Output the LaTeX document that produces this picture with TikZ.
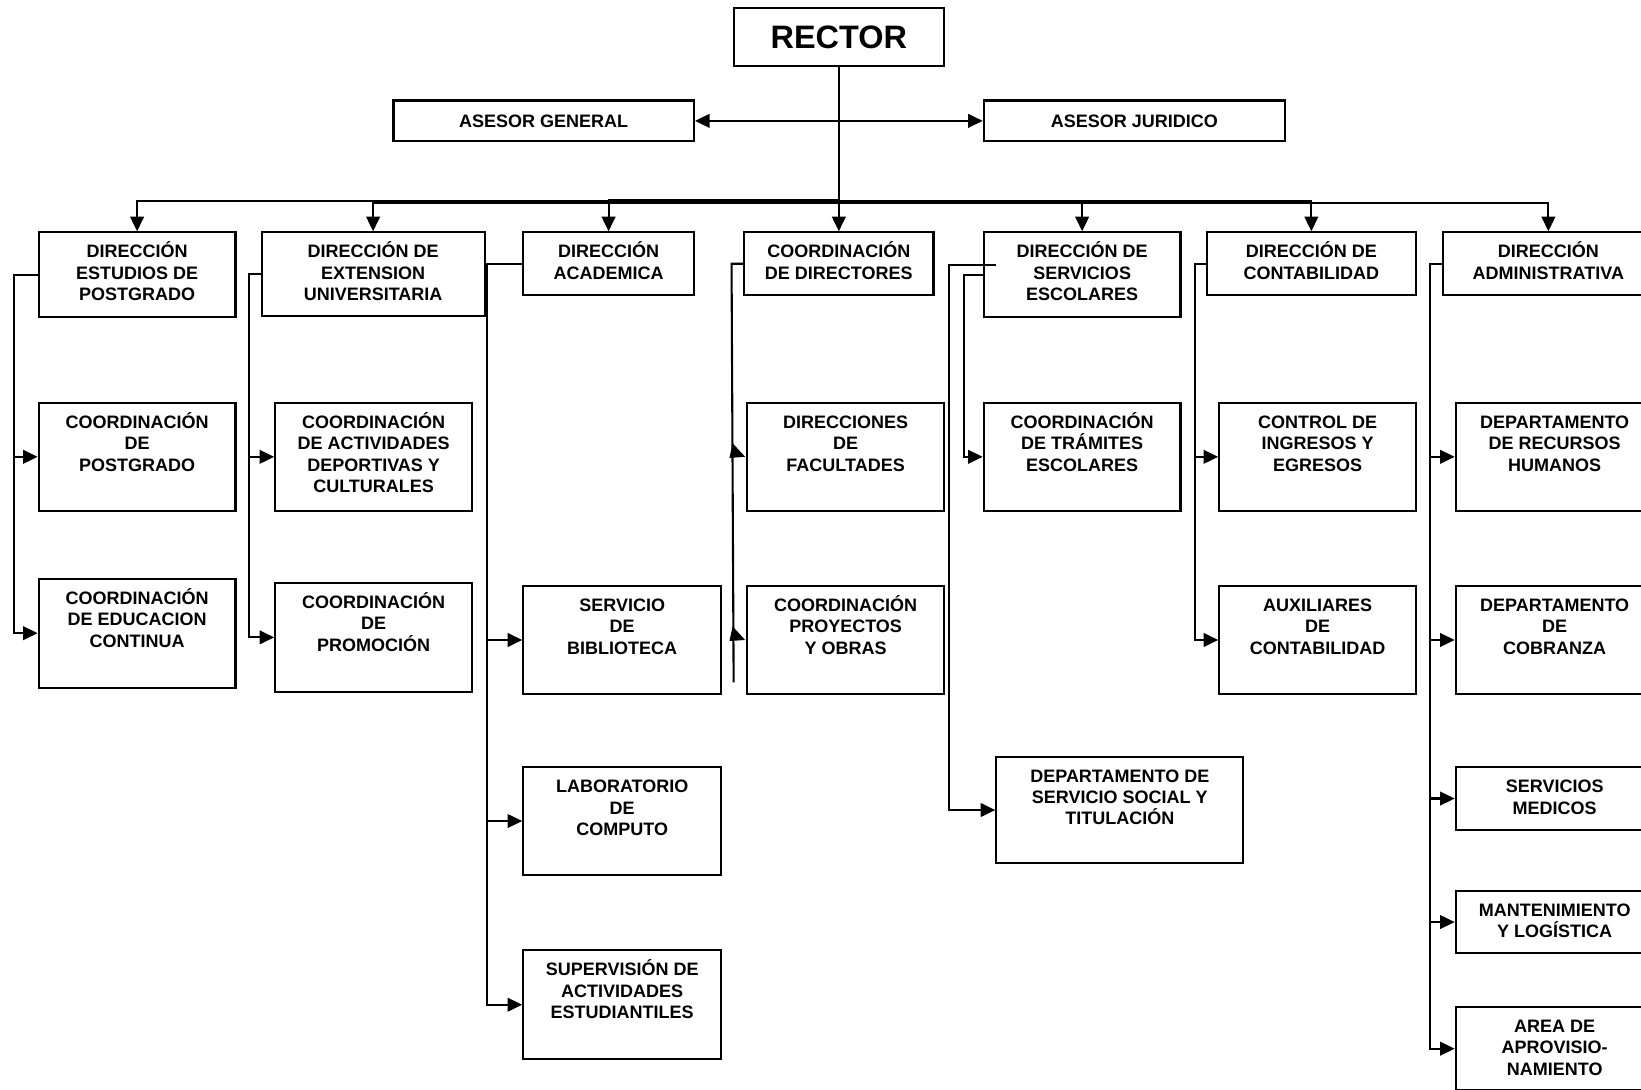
\documentclass[tikz,border=0pt]{standalone}
\usepackage{fontspec}
\setmainfont{Liberation Sans}
\usetikzlibrary{arrows.meta,fit}
% strut that fixes the height of the first line of every box label
\newcommand\lnstrut{\rule{0pt}{8.5pt}}
% \orgbox{name}{(x1,y1)}{(x2,y2)}{label}: framed unit with top-aligned label
\newcommand\orgbox[4]{%
  \node[boxs, fit={#2 #3}] (#1) {};
  \node[txt] (#1t) at ([yshift=-4pt]#1.north) {\lnstrut#4};}
\begin{document}
\begin{tikzpicture}[x=0.5pt,y=-0.5pt,
  boxs/.style={draw, line width=1pt, inner sep=0pt, rectangle},
  txt/.style={anchor=north, inner sep=0pt, align=center,
              font=\fontsize{8.6}{10.2}\selectfont\bfseries},
  arr/.style={line width=1pt, -{Triangle[width=6.5pt,length=7pt]}},
  darr/.style={line width=1pt, {Triangle[width=6.5pt,length=7pt]}-{Triangle[width=6.5pt,length=7pt]}},
  link/.style={line width=1pt},
]
\useasboundingbox (0,0) rectangle (1568,1041);
\fill[white] (0,0) rectangle (1568,1041);
\clip (0,0) rectangle (1568,1041);

% ---------- top level ----------
\node[boxs, fit={(701,8) (902,63)}] (rector) {};
\node[inner sep=0pt, font=\fontsize{15.5}{18}\selectfont\bfseries] (rectort) at (rector.center) {RECTOR};
\node[boxs, fit={(376,96) (663,135)}] (ag) {};
\node[txt, anchor=center] (agt) at (ag.center) {ASESOR GENERAL};
\node[boxs, fit={(940,96) (1228,135)}] (aj) {};
\node[txt, anchor=center] (ajt) at (aj.center) {ASESOR JURIDICO};

% ---------- directorates ----------
\orgbox{b1}{(37,222)}{(225,303)}{DIRECCIÓN\\ESTUDIOS DE\\POSTGRADO}
\orgbox{b2}{(250,222)}{(463,302)}{DIRECCIÓN DE\\EXTENSION\\UNIVERSITARIA}
\orgbox{b3}{(500,222)}{(663,282)}{DIRECCIÓN\\ACADEMICA}
\orgbox{b4}{(711,222)}{(892,282)}{COORDINACIÓN\\DE DIRECTORES}
\orgbox{b5}{(940,222)}{(1128,303)}{DIRECCIÓN DE\\SERVICIOS\\ESCOLARES}
\orgbox{b6}{(1153,222)}{(1353,282)}{DIRECCIÓN DE\\CONTABILIDAD}
\orgbox{b7}{(1379,222)}{(1580,282)}{DIRECCIÓN\\ADMINISTRATIVA}

% ---------- second row ----------
\orgbox{c1}{(37,385)}{(225,488)}{COORDINACIÓN\\DE\\POSTGRADO}
\orgbox{c2}{(263,385)}{(451,488)}{COORDINACIÓN\\DE ACTIVIDADES\\DEPORTIVAS Y\\CULTURALES}
\orgbox{c4}{(714,385)}{(902,488)}{DIRECCIONES\\DE\\FACULTADES}
\orgbox{c5}{(940,385)}{(1128,488)}{COORDINACIÓN\\DE TRÁMITES\\ESCOLARES}
\orgbox{c6}{(1165,385)}{(1353,488)}{CONTROL DE\\INGRESOS Y\\EGRESOS}
\orgbox{c7}{(1391,385)}{(1580,488)}{DEPARTAMENTO\\DE RECURSOS\\HUMANOS}

% ---------- third row ----------
\orgbox{d1}{(37,553)}{(225,657)}{COORDINACIÓN\\DE EDUCACION\\CONTINUA}
\orgbox{d2}{(263,557)}{(451,661)}{COORDINACIÓN\\DE\\PROMOCIÓN}
\orgbox{d3}{(500,560)}{(689,663)}{SERVICIO\\DE\\BIBLIOTECA}
\orgbox{d4}{(714,560)}{(902,663)}{COORDINACIÓN\\PROYECTOS\\Y OBRAS}
\orgbox{d6}{(1165,560)}{(1353,663)}{AUXILIARES\\DE\\CONTABILIDAD}
\orgbox{d7}{(1391,560)}{(1580,663)}{DEPARTAMENTO\\DE\\COBRANZA}

% ---------- lower units ----------
\orgbox{e3}{(500,733)}{(689,836)}{LABORATORIO\\DE\\COMPUTO}
\orgbox{e5}{(952,723)}{(1188,825)}{DEPARTAMENTO DE\\SERVICIO SOCIAL Y\\TITULACIÓN}
\orgbox{e7}{(1391,733)}{(1580,793)}{SERVICIOS\\MEDICOS}
\orgbox{f3}{(500,908)}{(689,1012)}{SUPERVISIÓN DE\\ACTIVIDADES\\ESTUDIANTILES}
\orgbox{f7}{(1391,851)}{(1580,911)}{MANTENIMIENTO\\Y LOGÍSTICA}
\orgbox{g7}{(1391,962)}{(1580,1042)}{AREA DE\\APROVISIO-\\NAMIENTO}

% ---------- advisers ----------
\draw[darr] (ag.east) -- (aj.west);

% ---------- rector to directorates ----------
\draw[arr] (rector.south) -- ++(0,128) -| (b1.north);
\draw[arr] (rector.south) -- ++(0,130) -| (b2.north);
\draw[arr] (rector.south) -- ++(0,127.5) -| (b3.north);
\draw[arr] (rector.south) -- (b4.north);
\draw[arr] (rector.south) -- ++(0,130) -| (b5.north);
\draw[arr] (rector.south) -- ++(0,128) -| (b6.north);
\draw[arr] (rector.south) -- ++(0,130) -| (b7.north);

% ---------- postgrado ----------
\draw[arr] (b1.west) -- ++(-23,0) |- (c1.west);
\draw[arr] (b1.west) -- ++(-23,0) |- (d1.west);

% ---------- extension ----------
\draw[arr] (b2.west) -- ++(-11,0) |- (c2.west);
\draw[arr] (b2.west) -- ++(-11,0) |- (d2.west);

% ---------- academica ----------
\draw[arr] (b3.west) -- ++(-34,0) |- (d3.west);
\draw[arr] (b3.west) -- ++(-34,0) |- (e3.west);
\draw[arr] (b3.west) -- ++(-34,0) |- (f3.west);

% ---------- directores ----------
\draw[link] (b4.west) -- ++(-11,0) -- ++(2,400);
\fill ([shift={(-13,-13)}]c4.west) -- ([shift={(-16,1)}]c4.west) -- ([shift={(-1,0)}]c4.west) -- cycle;
\fill ([shift={(-13,-13)}]d4.west) -- ([shift={(-16,1)}]d4.west) -- ([shift={(-1,0)}]d4.west) -- cycle;

% ---------- servicios escolares ----------
\draw[arr] (b5.west) -- ++(-18,0) |- (c5.west);
\draw[arr] ([shift={(13,-9.5)}]b5.west) -- ++(-45,0) |- (e5.west);

% ---------- contabilidad ----------
\draw[arr] (b6.west) -- ++(-10,0) |- (c6.west);
\draw[arr] (b6.west) -- ++(-10,0) |- (d6.west);

% ---------- administrativa ----------
\draw[arr] (b7.west) -- ++(-12,0) |- (c7.west);
\draw[arr] (b7.west) -- ++(-12,0) |- (d7.west);
\draw[arr] (b7.west) -- ++(-12,0) |- (e7.west);
\draw[arr] (b7.west) -- ++(-12,0) |- (f7.west);
\draw[arr] (b7.west) -- ++(-12,0) |- (g7.west);
\end{tikzpicture}
\end{document}
